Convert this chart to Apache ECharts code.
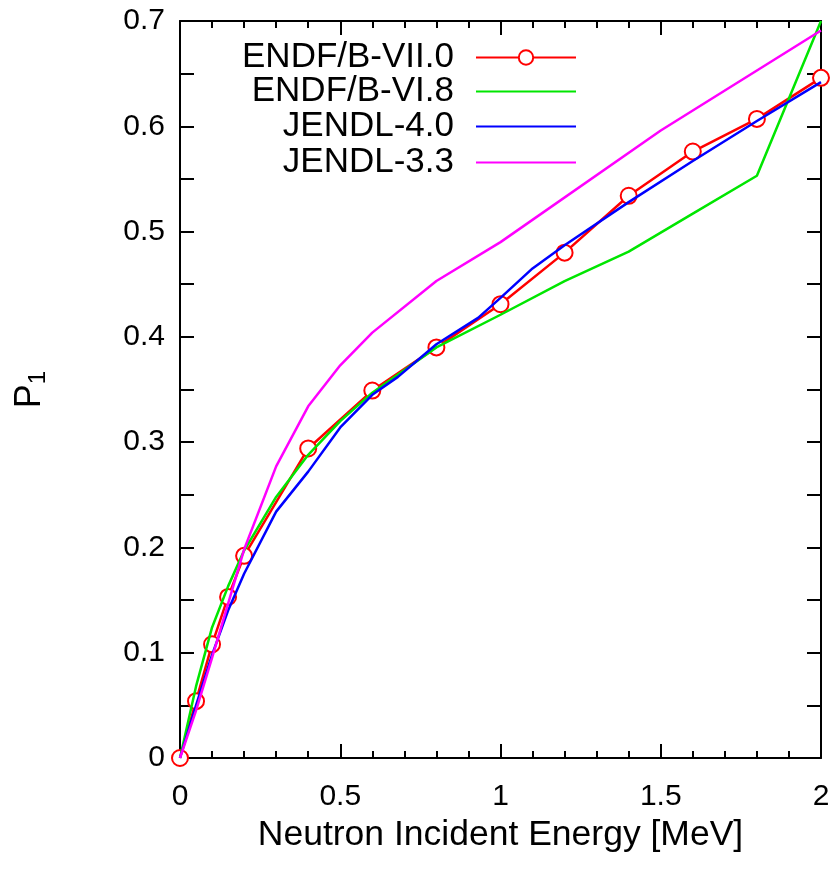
<!DOCTYPE html>
<html>
<head>
<meta charset="utf-8">
<script src="https://cdn.jsdelivr.net/npm/echarts@6/dist/echarts.min.js"></script>
<style>html,body{margin:0;padding:0;background:#fff}#c{width:839px;height:869px}</style>
</head>
<body>
<div id="c"></div>
<script>
// ---- data ----
const seriesNames = ['ENDF/B-VII.0', 'ENDF/B-VI.8', 'JENDL-4.0', 'JENDL-3.3'];
const xTickLabels = ['0', '0.5', '1', '1.5', '2'];
const yTickLabels = ['0', '0.1', '0.2', '0.3', '0.4', '0.5', '0.6', '0.7'];

const endf7X = [0, 0.05, 0.1, 0.15, 0.2, 0.4, 0.6, 0.8, 1.0, 1.2, 1.4, 1.6, 1.8, 2.0];
const endf7Y = [0, 0.054, 0.108, 0.153, 0.192, 0.294, 0.349, 0.390, 0.431, 0.480, 0.534, 0.576, 0.607, 0.646];

const endf6X = [0, 0.05, 0.1, 0.15, 0.2, 0.3, 0.4, 0.5, 0.6, 0.8, 1.0, 1.2, 1.4, 1.6, 1.8, 2.0];
const endf6Y = [0, 0.068, 0.124, 0.163, 0.197, 0.248, 0.288, 0.320, 0.347, 0.390, 0.421, 0.453, 0.481, 0.517, 0.553, 0.700];

const jendl4X = [0, 0.05, 0.1, 0.15, 0.2, 0.3, 0.4, 0.5, 0.6, 0.68, 0.8, 0.93, 1.0, 1.1, 1.2, 1.4, 1.6, 1.8, 2.0];
const jendl4Y = [0, 0.050, 0.098, 0.140, 0.175, 0.234, 0.272, 0.314, 0.345, 0.362, 0.393, 0.418, 0.437, 0.465, 0.487, 0.528, 0.567, 0.605, 0.642];

const jendl33X = [0, 0.05, 0.1, 0.2, 0.3, 0.4, 0.5, 0.6, 0.8, 1.0, 1.5, 2.0];
const jendl33Y = [0, 0.045, 0.095, 0.198, 0.277, 0.334, 0.373, 0.404, 0.453, 0.490, 0.596, 0.691];

// ---- styles / layout ----
const colors = ['#ff0000', '#00e600', '#0000ff', '#ff00ff'];
const legendTops = [40, 74, 109, 145];
const FONT = 'Liberation Sans, Arial, sans-serif';

const pairs = (xs, ys) => xs.map((x, i) => [x, ys[i]]);
const seriesData = [
  pairs(endf7X, endf7Y),
  pairs(endf6X, endf6Y),
  pairs(jendl4X, jendl4Y),
  pairs(jendl33X, jendl33Y)
];

const chart = echarts.init(document.getElementById('c'), null, {renderer: 'canvas'});

const axisLineStyle = {color: '#000', width: 2};
function xAx(pos, showLabels) {
  return {
    type: 'value', position: pos, min: 0, max: 2, interval: 0.5,
    axisLine: {show: true, onZero: false, lineStyle: axisLineStyle},
    axisTick: {show: true, inside: true, length: 14, lineStyle: axisLineStyle},
    minorTick: {show: true, splitNumber: 5, length: 7, lineStyle: axisLineStyle},
    splitLine: {show: false},
    axisLabel: {
      show: showLabels, fontSize: 30, color: '#000', fontFamily: FONT, margin: 24,
      formatter: v => xTickLabels[Math.round(v / 0.5)]
    },
    name: showLabels ? 'Neutron Incident Energy [MeV]' : '',
    nameLocation: 'middle', nameGap: 57,
    nameTextStyle: {fontSize: 35.5, color: '#000', fontFamily: FONT}
  };
}
function yAx(pos, showLabels) {
  return {
    type: 'value', position: pos, min: 0, max: 0.7, interval: 0.1,
    axisLine: {show: true, onZero: false, lineStyle: axisLineStyle},
    axisTick: {show: true, inside: true, length: 14, lineStyle: axisLineStyle},
    minorTick: {show: true, splitNumber: 2, length: 14, lineStyle: axisLineStyle},
    splitLine: {show: false},
    axisLabel: {
      show: showLabels, fontSize: 30, color: '#000', fontFamily: FONT, margin: 15,
      formatter: v => yTickLabels[Math.round(v / 0.1)]
    },
    name: showLabels ? '{p|P}{s|1}' : '',
    nameLocation: 'middle', nameGap: 130, nameRotate: 90,
    nameTextStyle: {
      color: '#000', fontFamily: FONT,
      rich: {
        p: {fontSize: 36, fontFamily: FONT, color: '#000'},
        s: {fontSize: 24, fontFamily: FONT, color: '#000', padding: [16, 0, 0, 0]}
      }
    }
  };
}

const series = seriesNames.map((n, i) => ({
  name: n,
  type: 'line',
  xAxisIndex: 0, yAxisIndex: 0,
  data: seriesData[i],
  symbol: i === 0 ? 'emptyCircle' : 'none',
  symbolSize: 16,
  showSymbol: i === 0,
  clip: false,
  lineStyle: {color: colors[i], width: 2.5},
  itemStyle: {color: colors[i], borderColor: colors[i], borderWidth: 2.5},
  animation: false,
  z: 2 + i
}));

const legends = seriesNames.map((n, i) => ({
  data: [n],
  right: 262, top: legendTops[i],
  orient: 'vertical', align: 'right',
  itemWidth: 100, itemHeight: 18, itemGap: 0, padding: 0,
  selectedMode: false,
  itemStyle: i === 0 ? {} : {color: 'rgba(0,0,0,0)', borderWidth: 0, opacity: 0},
  textStyle: {fontSize: 35, color: '#000', fontFamily: FONT, padding: [0, 17, 0, 0]}
}));

chart.setOption({
  animation: false,
  backgroundColor: '#fff',
  grid: {left: 180, right: 18, top: 21, bottom: 111, containLabel: false},
  xAxis: [xAx('bottom', true), xAx('top', false)],
  yAxis: [yAx('left', true), yAx('right', false)],
  legend: legends,
  series: series
});
</script>
</body>
</html>
